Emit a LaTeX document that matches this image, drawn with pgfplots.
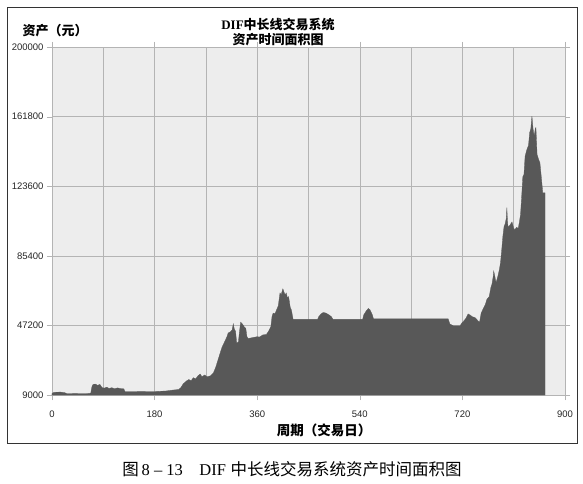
\documentclass[border=0pt]{standalone}
\usepackage{pgfplots}
\pgfplotsset{compat=1.18}
\usepackage{fontspec}
\setmainfont{Liberation Sans}
\newfontfamily\cjk{Noto Sans CJK SC}
\newfontfamily\serifl{Liberation Serif}
\definecolor{areagray}{HTML}{585858}
\definecolor{bggray}{HTML}{EDEDED}
\definecolor{gridgray}{HTML}{B4B4B4}
\begin{document}
\begin{tikzpicture}[x=1pt,y=1pt]
\useasboundingbox (0,0) rectangle (583,483);
\fill[white] (0,0) rectangle (583,483);
\draw[line width=0.9pt, black!80] (7,40) rectangle (577,476);
\begin{axis}[
  at={(52pt,88pt)}, anchor=south west,
  scale only axis, width=513pt, height=348pt,
  xmin=0, xmax=900, ymin=9000, ymax=200000,
  xtick={0,180,360,540,720,900},
  minor xtick={90,270,450,630,810},
  ytick={9000,47200,85400,123600,161800,200000},
  yticklabels={9000,47200,85400,123600,161800,200000},
  xticklabels={0,180,360,540,720,900},
  scaled y ticks=false,
  grid=both,
  major grid style={gridgray, line width=0.5pt},
  minor grid style={gridgray, line width=0.5pt},
  axis line style={gridgray},
  tick align=outside, major tick length=5pt, minor tick length=0pt,
  tick style={gridgray},
  axis background/.style={fill=bggray},
  ticklabel style={font=\fontsize{9.5}{10}\selectfont, text=black!85},
  xticklabel style={yshift=-7pt},
  yticklabel style={xshift=0pt},
  clip=true,
]
\addplot[fill=areagray, draw=areagray, line width=0.3pt] coordinates {
(0,9800) (2,10300) (5,10500) (15,10600) (22,10300) (26,9800) (60,9700) (68,10000)
(70,13500) (72,14800) (76,15000) (80,14300) (84,14800) (88,13000) (92,12800) (96,13300)
(100,12600) (105,13000) (110,12400) (115,12900) (120,12500) (126,12400) (128,10800)
(180,10900) (200,11200) (207,11500) (215,11800) (222,12000) (226,13000) (230,15000)
(235,16500) (240,17500) (244,16800) (248,18500) (252,17800) (256,19500) (260,20500)
(263,19000) (268,20000) (272,19000) (278,19500) (283,21000) (287,24000) (291,28000)
(295,32000) (298,35000) (301,37000) (304,39000) (307,41000) (309,43000) (312,43500)
(316,44700) (318,48000) (320,45000) (322,44000) (324,37600) (327,38000) (329,44000)
(331,49000) (334,48000) (337,46500) (340,45500) (342,41000) (344,40000) (360,41000)
(364,40800) (370,42000) (376,42200) (380,44000) (384,46500) (386,52000) (388,54000)
(391,53500) (394,55700) (397,58000) (400,65000) (402,64000) (405,67300) (407,65500)
(409,64000) (411,65000) (413,62300) (415,63000) (416,61200) (418,57000) (420,55700)
(423,50500) (466,50500) (468,52000) (472,53500) (476,54300) (480,54000) (486,53000)
(490,52000) (493,50500) (545,50500) (547,53000) (551,55000) (555,56500) (558,55700)
(562,53000) (564,50800) (695,50800) (698,48000) (704,47000) (716,47000) (719,48500)
(722,49500) (726,51000) (730,53500) (734,52800) (737,52000) (742,51500) (746,50200)
(750,48800) (753,54000) (756,56000) (760,58500) (763,61500) (767,63000) (770,68000)
(772,70000) (774,74000) (775,77000) (777,74000) (779,70600) (782,73900) (785,78000)
(787,82000) (789,88700) (791,96000) (793,101300) (795,103000) (797,106000) (798,111800)
(799,105000) (800,101300) (803,102000) (807,104000) (810,100500) (812,99700) (815,101000)
(818,100500) (820,104000) (822,108000) (824,118000) (826,128800) (828,130000) (830,140000)
(833,143600) (836,146000) (838,153000) (840,155000) (842,162000) (844,155000) (846,151000)
(848,155500) (849,155700) (851,141000) (854,138000) (856,136500) (858,130000) (861,120000)
(865,120000)
} \closedcycle;
\end{axis}
\node[align=center, font=\fontsize{13}{14.5}\selectfont\bfseries] at (278,451)
  {{\serifl DIF}{\cjk 中长线交易系统}\\{\cjk 资产时间面积图}};
\node[anchor=west, font=\fontsize{13}{14}\selectfont\bfseries] at (19,452) {\cjk 资产（元）};
\node[font=\fontsize{13.5}{14}\selectfont\bfseries] at (324,53) {\cjk 周期（交易日）};
\node[font=\fontsize{16.5}{18}\selectfont] at (292,14) {{\cjk 图}\,{\serifl 8 – 13}\quad{\serifl DIF} {\cjk 中长线交易系统资产时间面积图}};
\end{tikzpicture}
\end{document}
